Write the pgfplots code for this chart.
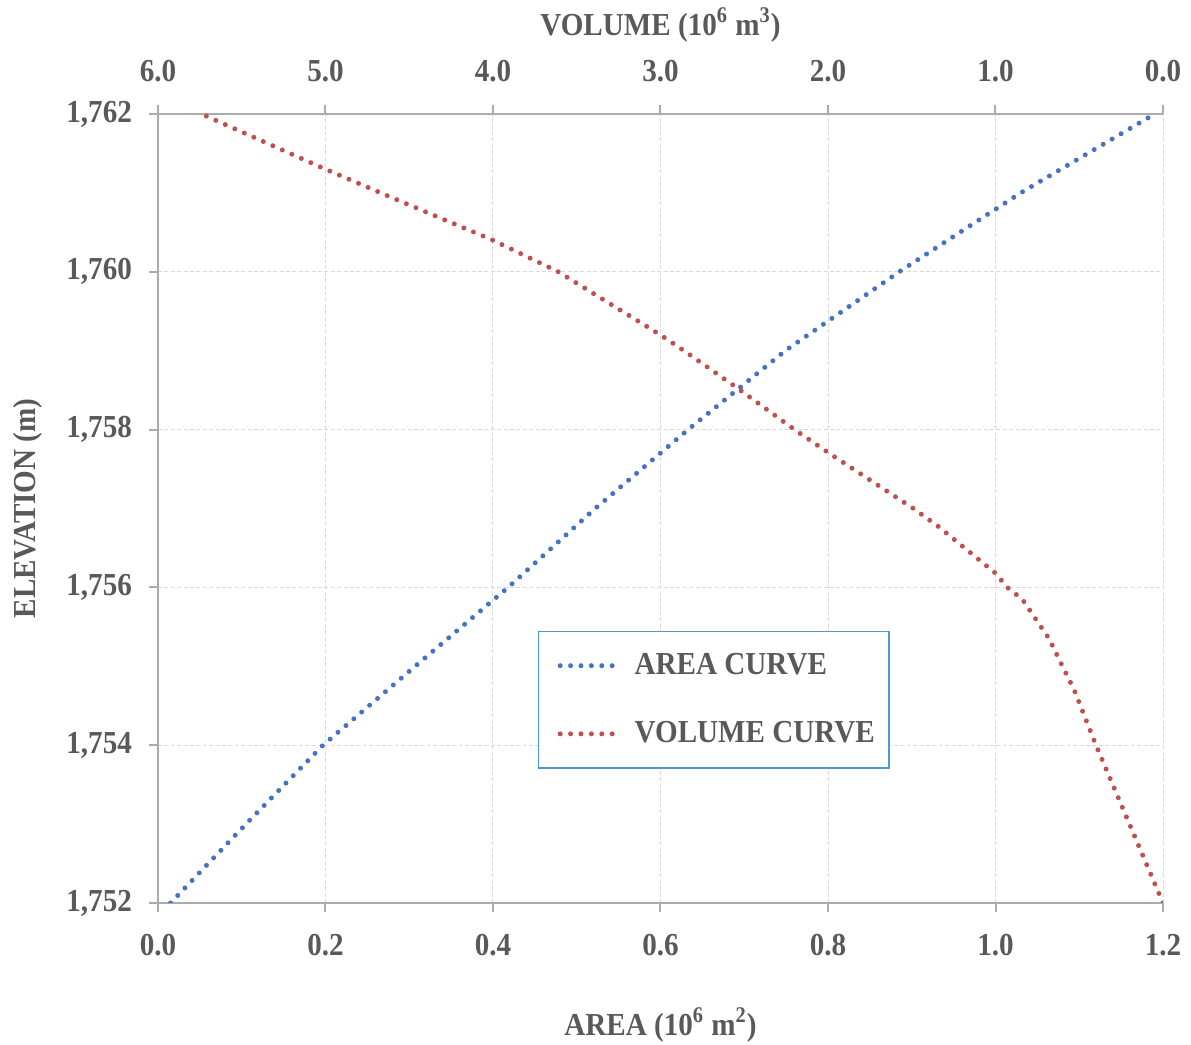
\documentclass[border=0pt]{standalone}
\usepackage{fontspec}
\setmainfont{Liberation Serif}[FakeStretch=0.91]
\usepackage{pgfplots}
\pgfplotsset{compat=1.18}

\definecolor{txtgrey}{HTML}{595959}
\definecolor{axgrey}{HTML}{ABABAB}
\definecolor{gridgrey}{HTML}{D9D9D9}
\definecolor{areablue}{HTML}{4472C4}
\definecolor{volred}{HTML}{C0504D}
\definecolor{legblue}{HTML}{4A98D8}

\newcommand{\lblfont}{\fontsize{16}{19}\selectfont\bfseries}

\pgfplotsset{
  curvedots/.style={line width=2.5pt, line cap=round, dash pattern=on 0pt off 5.2pt},
  common/.style={
    scale only axis, width=502.5pt, height=394.5pt,
    at={(0,0)}, anchor=south west,
    ymin=1752, ymax=1762,
    axis line style={draw=axgrey, line width=1pt},
    tick style={draw=axgrey, line width=1pt},
    tick align=outside, major tick length=4.5pt,
    tick label style={font=\lblfont, text=txtgrey},
    /pgf/number format/assume math mode=true,
    label style={font=\lblfont, text=txtgrey},
  },
}

\begin{document}
\begin{tikzpicture}
% Elevation against surface area (bottom and left axes)
\begin{axis}[common,
  xmin=0, xmax=1.2,
  xtick={0,0.2,...,1.2},
  ytick={1752,1754,...,1762},
  axis x line*=bottom, axis y line*=left,
  xticklabel style={yshift=-7.5pt, /pgf/number format/.cd, fixed, fixed zerofill, precision=1},
  yticklabel style={xshift=-5pt, /pgf/number format/.cd, 1000 sep={,}},
  grid=major,
  major grid style={draw=gridgrey, line width=0.5pt, dash pattern=on 2pt off 1.2pt},
  xlabel={AREA (10\textsuperscript{6} m\textsuperscript{2})},
  xlabel style={at={(axis description cs:0.5,-0.1546)}, anchor=center},
  ylabel={ELEVATION (m)},
  ylabel style={at={(axis description cs:-0.1300,0.5)}, anchor=center, rotate=0},
]
\draw[gridgrey, line width=0.5pt, dash pattern=on 2pt off 1.2pt]
  (axis cs:1.2,1752) -- (axis cs:1.2,1762);
\addplot[areablue, curvedots] coordinates {
  (0.015,1752) (0.105,1753) (0.197,1754) (0.307,1755) (0.418,1756)
  (0.522,1757) (0.633,1758) (0.749,1759) (0.885,1760) (1.030,1761)
  (1.190,1762)
};
\end{axis}

% Elevation against stored volume (top axis, reversed)
\begin{axis}[common,
  xmin=0, xmax=6, x dir=reverse,
  xtick={0,1,...,6},
  axis x line*=top, hide y axis,
  xticklabel style={yshift=8pt, /pgf/number format/.cd, fixed, fixed zerofill, precision=1},
  xlabel={VOLUME (10\textsuperscript{6} m\textsuperscript{3})},
  xlabel style={at={(axis description cs:0.5,1.1128)}, anchor=center},
  legend style={at={(0.378,0.345)}, anchor=north west,
    draw=legblue, line width=0.8pt, fill=white,
    font=\lblfont, text=txtgrey,
    inner xsep=5pt, inner ysep=9pt,
    row sep=18pt,
    /tikz/every odd column/.append style={column sep=3pt}},
  legend cell align=left,
  legend image code/.code={\path (0pt,0pt); \draw[#1] (4.5pt,0pt) -- (35.5pt,0pt);},
]
\addlegendimage{areablue, curvedots}
\addlegendentry{AREA CURVE}
\addplot[volred, curvedots] coordinates {
  (0.00,1752) (0.20,1753) (0.40,1754) (0.53,1754.7) (0.60,1755)
  (0.68,1755.35) (0.76,1755.6) (0.84,1755.85) (0.93,1756) (1.00,1756.18)
  (1.34,1756.77) (1.49,1757) (2.00,1757.71) (2.20,1758) (2.55,1758.54)
  (2.86,1759) (3.00,1759.2) (3.61,1760) (4.00,1760.4) (4.67,1761)
  (5.00,1761.3) (5.74,1762)
};
\addlegendentry{VOLUME CURVE}
\end{axis}

\pgfresetboundingbox
\useasboundingbox (-79pt,-71pt) rectangle (516.5pt,451.5pt);
\end{tikzpicture}
\end{document}
